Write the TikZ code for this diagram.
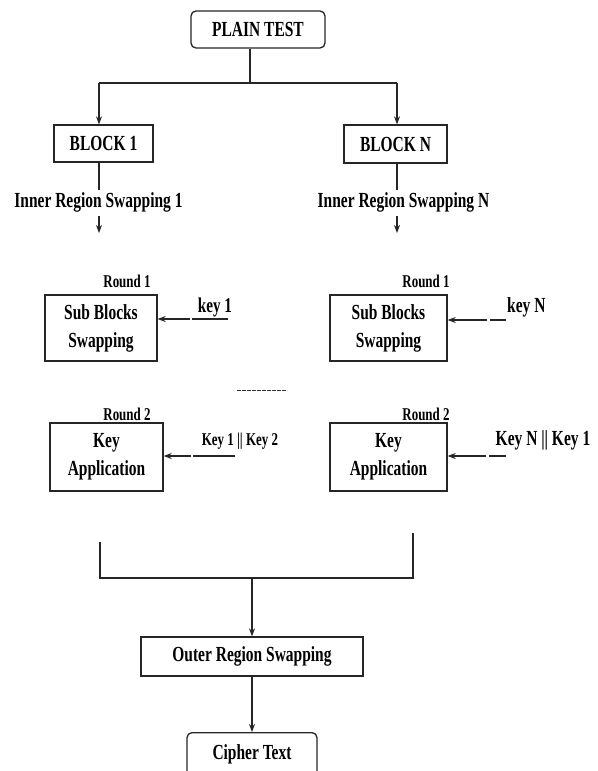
\documentclass[tikz,border=0pt]{standalone}
\usepackage{fontspec}
\setmainfont{Liberation Serif}[FakeStretch=0.72]
\usetikzlibrary{arrows.meta}
\begin{document}
\begin{tikzpicture}[x=1pt,y=-1pt]
\tikzset{
  ln/.style={line width=1.2pt, draw=black!85},
  arr/.style={ln, -{Stealth[length=8pt,width=6pt]}},
  box/.style={draw=black!85, line width=1.3pt, inner sep=0pt, align=center,
    font=\fontsize{21.5}{28}\selectfont\bfseries},
  rbox/.style={box, rounded corners=5pt},
  lbl/.style={inner sep=0pt, font=\fontsize{21.5}{24}\selectfont\bfseries},
  small/.style={inner sep=0pt, font=\fontsize{18}{20}\selectfont\bfseries}
}
\clip (0,0) rectangle (597,771);
\fill[white] (0,0) rectangle (597,771);

% top
\node[rbox, minimum width=134pt, minimum height=37pt] (plain) at (258,29.5) {PLAIN TEST};
\node[box, minimum width=99pt, minimum height=37pt] (block1) at (103.5,143.5) {BLOCK 1};
\node[box, minimum width=103pt, minimum height=38pt] (blockN) at (395.5,144) {BLOCK N};

\coordinate (split) at (250,83);
\coordinate (sl) at (99,83);
\coordinate (sr) at (397,83);
\draw[ln] (plain.south -| split) -- (split);
\draw[ln] (sl) -- (sr);
\draw[arr] (sl) -- (sl |- block1.north);
\draw[arr] (sr) -- (sr |- blockN.north);

% inner region swapping
\node[lbl] (inner1) at (98.5,202.5) {Inner Region Swapping 1};
\node[lbl] (innerN) at (403.5,202.5) {Inner Region Swapping N};
\coordinate (i1t) at (99,190);
\coordinate (iNt) at (397,190);
\draw[ln] (block1.south -| i1t) -- (i1t);
\draw[ln] (blockN.south -| iNt) -- (iNt);
\coordinate (i1a) at (99,216);
\coordinate (i1b) at (99,233);
\coordinate (iNa) at (397,216);
\coordinate (iNb) at (397,233);
\draw[arr] (i1a) -- (i1b);
\draw[arr] (iNa) -- (iNb);

% round 1
\node[small] (r1a) at (127,281) {Round 1};
\node[small] (r1b) at (426,281) {Round 1};
\node[box, minimum width=112pt, minimum height=66pt] (sub1) at (101,328) {Sub Blocks\\Swapping};
\node[box, minimum width=117pt, minimum height=66pt] (subN) at (388.5,328) {Sub Blocks\\Swapping};

\node[lbl, font=\fontsize{21}{24}\selectfont\bfseries] (k1) at (215,307) {key 1};
\node[lbl, anchor=west] (kN) at (507,307) {key N};
\coordinate (k1s) at (228,319);
\coordinate (k1g) at (192,319);
\coordinate (k1h) at (190,319);
\draw[ln] (k1s) -- (k1g);
\draw[arr] (k1h) -- (sub1.east |- k1h);
\coordinate (kNs) at (506,320);
\coordinate (kNg) at (490,320);
\coordinate (kNh) at (487,320);
\draw[ln] (kNs) -- (kNg);
\draw[arr] (kNh) -- (subN.east |- kNh);

% dots between rounds
\coordinate (d1) at (237,390);
\coordinate (d2) at (287,390);
\draw[line width=0.8pt, black!80, dash pattern=on 4pt off 1pt] (d1) -- (d2);

% round 2
\node[small] (r2a) at (127,414) {Round 2};
\node[small] (r2b) at (426,414) {Round 2};
\node[box, minimum width=113pt, minimum height=68pt] (app1) at (106.5,457) {Key\\Application};
\node[box, minimum width=117pt, minimum height=68pt] (appN) at (388.5,457) {Key\\Application};

\node[small] (k12) at (240,441) {Key 1 || Key 2};
\node[lbl] (kN1) at (543,440) {Key N || Key 1};
\coordinate (k12s) at (235,456);
\coordinate (k12g) at (193,456);
\coordinate (k12h) at (191,456);
\draw[ln] (k12s) -- (k12g);
\draw[arr] (k12h) -- (app1.east |- k12h);
\coordinate (kN1s) at (506,456);
\coordinate (kN1g) at (489,456);
\coordinate (kN1h) at (486,456);
\draw[ln] (kN1s) -- (kN1g);
\draw[arr] (kN1h) -- (appN.east |- kN1h);

% bottom merge
\coordinate (bl) at (100,542);
\coordinate (br) at (413,533);
\coordinate (bj) at (252,578);
\draw[ln] (bl) -- (bl |- bj) -- (br |- bj) -- (br);
\node[box, minimum width=222pt, minimum height=39pt] (outer) at (252,656.5) {Outer Region Swapping};
\draw[arr] (bj) -- (bj |- outer.north);
\node[rbox, anchor=north, minimum width=130pt, text height=27pt, text depth=40pt] (cipher) at (252,732) {Cipher Text};
\draw[arr] (outer.south) -- (cipher.north);
\end{tikzpicture}
\end{document}
